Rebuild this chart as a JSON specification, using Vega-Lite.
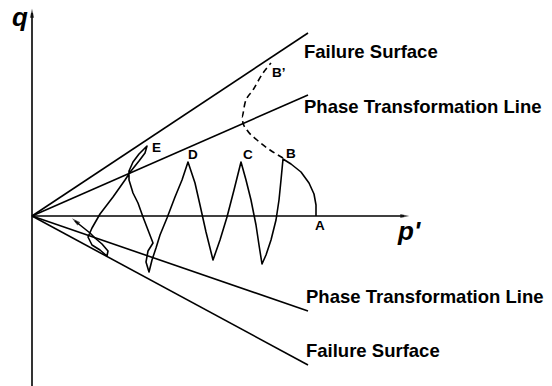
{
  "$schema": "https://vega.github.io/schema/vega-lite/v6.json",
  "width": 552,
  "height": 386,
  "autosize": {"type": "none"},
  "padding": 0,
  "background": "white",
  "config": {"view": {"stroke": null}},
  "datasets": {
    "lines": [
      {"id": "qaxis", "ord": 0, "p": 0, "q": -170},
      {"id": "qaxis", "ord": 1, "p": 0, "q": 203},
      {"id": "paxis", "ord": 0, "p": 0, "q": 0},
      {"id": "paxis", "ord": 1, "p": 372, "q": 0},
      {"id": "fs_up", "ord": 0, "p": 0, "q": 0},
      {"id": "fs_up", "ord": 1, "p": 276, "q": 183},
      {"id": "pt_up", "ord": 0, "p": 0, "q": 0},
      {"id": "pt_up", "ord": 1, "p": 276, "q": 121},
      {"id": "pt_lo", "ord": 0, "p": 0, "q": 0},
      {"id": "pt_lo", "ord": 1, "p": 276, "q": -95},
      {"id": "fs_lo", "ord": 0, "p": 0, "q": 0},
      {"id": "fs_lo", "ord": 1, "p": 276, "q": -149},
      {"id": "path", "ord": 0, "p": 284, "q": 0},
      {"id": "path", "ord": 1, "p": 284, "q": 11},
      {"id": "path", "ord": 2, "p": 282, "q": 22},
      {"id": "path", "ord": 3, "p": 277, "q": 33},
      {"id": "path", "ord": 4, "p": 269, "q": 44},
      {"id": "path", "ord": 5, "p": 259, "q": 52},
      {"id": "path", "ord": 6, "p": 251, "q": 57},
      {"id": "path", "ord": 7, "p": 249, "q": 36},
      {"id": "path", "ord": 8, "p": 247, "q": 16},
      {"id": "path", "ord": 9, "p": 244, "q": -4},
      {"id": "path", "ord": 10, "p": 239, "q": -24},
      {"id": "path", "ord": 11, "p": 234, "q": -39},
      {"id": "path", "ord": 12, "p": 230, "q": -48},
      {"id": "path", "ord": 13, "p": 227, "q": -29},
      {"id": "path", "ord": 14, "p": 224, "q": -9},
      {"id": "path", "ord": 15, "p": 219, "q": 16},
      {"id": "path", "ord": 16, "p": 214, "q": 36},
      {"id": "path", "ord": 17, "p": 209, "q": 54},
      {"id": "path", "ord": 18, "p": 202, "q": 26},
      {"id": "path", "ord": 19, "p": 195, "q": -1},
      {"id": "path", "ord": 20, "p": 188, "q": -24},
      {"id": "path", "ord": 21, "p": 181, "q": -44},
      {"id": "path", "ord": 22, "p": 174, "q": -16},
      {"id": "path", "ord": 23, "p": 168, "q": 11},
      {"id": "path", "ord": 24, "p": 163, "q": 33},
      {"id": "path", "ord": 25, "p": 156, "q": 54},
      {"id": "path", "ord": 26, "p": 150, "q": 36},
      {"id": "path", "ord": 27, "p": 143, "q": 19},
      {"id": "path", "ord": 28, "p": 135, "q": -2},
      {"id": "path", "ord": 29, "p": 128, "q": -19},
      {"id": "path", "ord": 30, "p": 124, "q": -32},
      {"id": "path", "ord": 31, "p": 120, "q": -44},
      {"id": "path", "ord": 32, "p": 117, "q": -56},
      {"id": "path", "ord": 33, "p": 114, "q": -46},
      {"id": "path", "ord": 34, "p": 116, "q": -35},
      {"id": "path", "ord": 35, "p": 121, "q": -27},
      {"id": "path", "ord": 36, "p": 116, "q": -14},
      {"id": "path", "ord": 37, "p": 111, "q": -1},
      {"id": "path", "ord": 38, "p": 106, "q": 13},
      {"id": "path", "ord": 39, "p": 101, "q": 23},
      {"id": "path", "ord": 40, "p": 97, "q": 36},
      {"id": "path", "ord": 41, "p": 97, "q": 45},
      {"id": "path", "ord": 42, "p": 101, "q": 54},
      {"id": "path", "ord": 43, "p": 107, "q": 62},
      {"id": "path", "ord": 44, "p": 112, "q": 67},
      {"id": "path", "ord": 45, "p": 115, "q": 70},
      {"id": "path", "ord": 46, "p": 113, "q": 63},
      {"id": "path", "ord": 47, "p": 107, "q": 55},
      {"id": "path", "ord": 48, "p": 99, "q": 45},
      {"id": "path", "ord": 49, "p": 93, "q": 36},
      {"id": "path", "ord": 50, "p": 81, "q": 19},
      {"id": "path", "ord": 51, "p": 68, "q": 2},
      {"id": "path", "ord": 52, "p": 60, "q": -12},
      {"id": "path", "ord": 53, "p": 56, "q": -21},
      {"id": "path", "ord": 54, "p": 60, "q": -29},
      {"id": "path", "ord": 55, "p": 68, "q": -34},
      {"id": "path", "ord": 56, "p": 75, "q": -40},
      {"id": "path", "ord": 57, "p": 76, "q": -35},
      {"id": "path", "ord": 58, "p": 70, "q": -28},
      {"id": "path", "ord": 59, "p": 63, "q": -22},
      {"id": "path", "ord": 60, "p": 58, "q": -17},
      {"id": "path", "ord": 61, "p": 43, "q": -5}
    ],
    "dashed": [
      {"ord": 0, "p": 251, "q": 58},
      {"ord": 1, "p": 238, "q": 66},
      {"ord": 2, "p": 225, "q": 76},
      {"ord": 3, "p": 215, "q": 86},
      {"ord": 4, "p": 211, "q": 93},
      {"ord": 5, "p": 210, "q": 99},
      {"ord": 6, "p": 213, "q": 113},
      {"ord": 7, "p": 221, "q": 126},
      {"ord": 8, "p": 231, "q": 143},
      {"ord": 9, "p": 239, "q": 153}
    ],
    "big": [
      {"p": 272, "q": 158, "label": "Failure Surface"},
      {"p": 272, "q": 103, "label": "Phase Transformation Line"},
      {"p": 274, "q": -87, "label": "Phase Transformation Line"},
      {"p": 274, "q": -141, "label": "Failure Surface"}
    ],
    "pts": [
      {"p": 120, "q": 64, "label": "E"},
      {"p": 156, "q": 57, "label": "D"},
      {"p": 211, "q": 57, "label": "C"},
      {"p": 254, "q": 58, "label": "B"},
      {"p": 283, "q": -14, "label": "A"},
      {"p": 240, "q": 139, "label": "B’"}
    ],
    "axlab": [
      {"p": -20, "q": 190, "label": "q"},
      {"p": 366, "q": -24, "label": "p'"}
    ],
    "arrows": [
      {"p": 0, "q": 202, "kind": "up"},
      {"p": 372, "q": 0, "kind": "right"},
      {"p": 44, "q": -5.5, "kind": "path"}
    ]
  },
  "encoding": {
    "x": {"field": "p", "type": "quantitative", "axis": null, "scale": {"domain": [-32, 520], "nice": false, "zero": false}},
    "y": {"field": "q", "type": "quantitative", "axis": null, "scale": {"domain": [-170, 216], "nice": false, "zero": false}}
  },
  "layer": [
    {
      "data": {"name": "lines"},
      "mark": {"type": "line", "color": "black", "strokeWidth": 1.6, "interpolate": "linear", "strokeJoin": "round"},
      "encoding": {
        "detail": {"field": "id", "type": "nominal"},
        "order": {"field": "ord", "type": "quantitative"}
      }
    },
    {
      "data": {"name": "dashed"},
      "mark": {"type": "line", "color": "black", "strokeWidth": 1.6, "strokeDash": [6, 4], "interpolate": "monotone"},
      "encoding": {
        "order": {"field": "ord", "type": "quantitative"}
      }
    },
    {
      "data": {"name": "arrows"},
      "transform": [{"filter": "datum.kind == 'up'"}],
      "mark": {"type": "point", "filled": true, "color": "black", "shape": "M0,-1L0.4,0.7L-0.4,0.7Z", "size": 110, "angle": 0}
    },
    {
      "data": {"name": "arrows"},
      "transform": [{"filter": "datum.kind == 'right'"}],
      "mark": {"type": "point", "filled": true, "color": "black", "shape": "M0,-1L0.4,0.7L-0.4,0.7Z", "size": 110, "angle": 90}
    },
    {
      "data": {"name": "arrows"},
      "transform": [{"filter": "datum.kind == 'path'"}],
      "mark": {"type": "point", "filled": true, "color": "black", "shape": "M0,-1L0.4,0.7L-0.4,0.7Z", "size": 110, "angle": 310}
    },
    {
      "data": {"name": "big"},
      "mark": {"type": "text", "font": "Liberation Sans", "fontWeight": "bold", "fontSize": 18.5, "align": "left", "baseline": "alphabetic", "color": "black"},
      "encoding": {"text": {"field": "label"}}
    },
    {
      "data": {"name": "pts"},
      "mark": {"type": "text", "font": "Liberation Sans", "fontWeight": "bold", "fontSize": 13.5, "align": "left", "baseline": "alphabetic", "color": "black"},
      "encoding": {"text": {"field": "label"}}
    },
    {
      "data": {"name": "axlab"},
      "mark": {"type": "text", "font": "Liberation Sans", "fontWeight": "bold", "fontStyle": "italic", "fontSize": 26, "align": "left", "baseline": "alphabetic", "color": "black"},
      "encoding": {"text": {"field": "label"}}
    }
  ]
}
